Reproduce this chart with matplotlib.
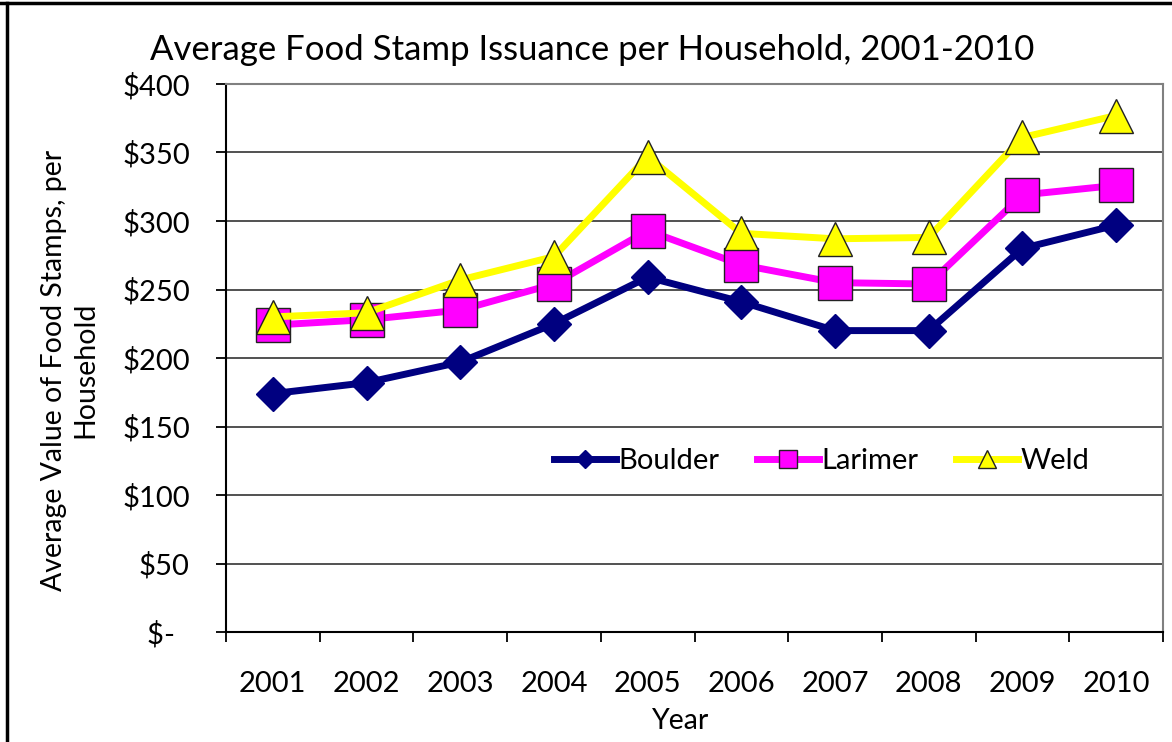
import matplotlib
matplotlib.use("Agg")
import matplotlib.pyplot as plt
from matplotlib.lines import Line2D

plt.rcParams['font.family'] = ['Lato', 'DejaVu Sans']

years = ['2001', '2002', '2003', '2004', '2005', '2006', '2007', '2008', '2009', '2010']
boulder = [174, 182, 197, 225, 259, 241, 220, 220, 280, 297]
larimer = [224, 228, 235, 254, 293, 268, 255, 254, 319, 326]
weld = [230, 233, 257, 274, 347, 291, 287, 288, 361, 377]
y_ticks = [0, 50, 100, 150, 200, 250, 300, 350, 400]
y_labels = ['$-  ', '$50', '$100', '$150', '$200', '$250', '$300', '$350', '$400']

fig = plt.figure(figsize=(11.72, 7.42), dpi=100)
ax = fig.add_axes([226 / 1172, 1 - 632 / 742, (1163 - 226) / 1172, (632 - 84) / 742])

x = list(range(len(years)))
ax.plot(x, boulder, color='#000080', lw=5, marker='D', ms=17.5,
        mfc='#000080', mec='#000080', label='Boulder', zorder=3)
ax.plot(x, larimer, color='#FF00FF', lw=5, marker='s', ms=24,
        mfc='#FF00FF', mec='#222222', mew=1, label='Larimer', zorder=4)
ax.plot(x, weld, color='#FFFF00', lw=5, marker='^', ms=24,
        mfc='#FFFF00', mec='#222222', mew=1, label='Weld', zorder=5)

ax.set_xlim(-0.5, 9.5)
ax.set_ylim(0, 400)
ax.set_yticks(y_ticks)
ax.set_yticklabels(y_labels)
ax.set_xticks(x)
ax.set_xticklabels(years)
ax.set_xticks([i - 0.5 for i in range(11)], minor=True)
ax.tick_params(axis='x', which='major', length=0, pad=28, labelsize=21)
ax.tick_params(axis='x', which='minor', length=7, width=1.3, direction='out', color='black')
ax.tick_params(axis='y', length=7, width=1.3, direction='out', pad=19, labelsize=21)

ax.grid(axis='y', color='#333333', lw=1.2)
ax.set_axisbelow(True)
for s in ['left', 'bottom']:
    ax.spines[s].set_color('black')
    ax.spines[s].set_linewidth(1.5)
for s in ['top', 'right']:
    ax.spines[s].set_color('#808080')
    ax.spines[s].set_linewidth(1.5)

leg = ax.legend(loc='center', bbox_to_anchor=(0.636, 125 / 400), ncol=3, frameon=False,
                fontsize=21, markerscale=0.55, handlelength=2.1, handletextpad=0.1,
                columnspacing=1.3)

fig.text(592 / 1172, 1 - 50 / 742, 'Average Food Stamp Issuance per Household, 2001-2010',
         ha='center', va='center', fontsize=25)
fig.text(70 / 1172, 1 - 370 / 742, 'Average Value of Food Stamps, per\nHousehold',
         ha='center', va='center', rotation=90, fontsize=20.5, multialignment='center',
         linespacing=1.25)
fig.text(681 / 1172, 1 - 721 / 742, 'Year', ha='center', va='center', fontsize=20.5)

# outer chart frame (top and left edges visible)
fig.add_artist(Line2D([0, 1], [1 - 3 / 742, 1 - 3 / 742], color='black', lw=2.5,
                      transform=fig.transFigure))
fig.add_artist(Line2D([7 / 1172, 7 / 1172], [0, 1 - 3 / 742], color='black', lw=2.5,
                      transform=fig.transFigure))

fig.savefig('out.png', dpi=100)
